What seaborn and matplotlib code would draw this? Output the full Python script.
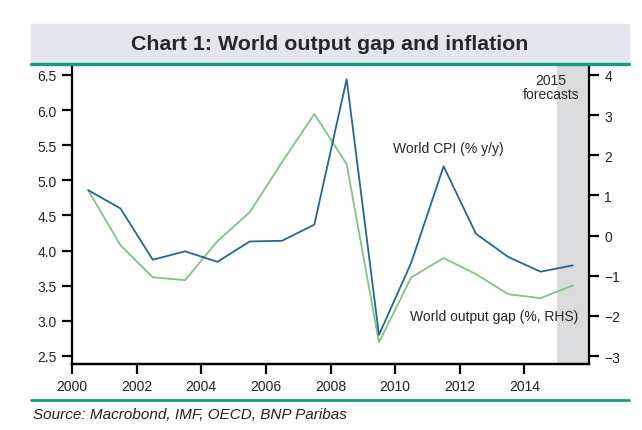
import pandas as pd
import seaborn as sns
import matplotlib.pyplot as plt
from matplotlib.patches import Rectangle
from matplotlib.lines import Line2D

# Annual values, plotted at mid-year
years = [2000.5, 2001.5, 2002.5, 2003.5, 2004.5, 2005.5, 2006.5, 2007.5,
         2008.5, 2009.5, 2010.5, 2011.5, 2012.5, 2013.5, 2014.5, 2015.5]
world_cpi = [4.86, 4.60, 3.87, 3.99, 3.84, 4.13, 4.14, 4.37,
             6.44, 2.80, 3.83, 5.20, 4.24, 3.91, 3.70, 3.79]
output_gap = [1.13, -0.24, -1.04, -1.11, -0.14, 0.58, 1.83, 3.03,
              1.78, -2.66, -1.04, -0.56, -0.96, -1.46, -1.56, -1.24]
left_ticks = [2.5, 3.0, 3.5, 4.0, 4.5, 5.0, 5.5, 6.0, 6.5]
right_ticks = [-3, -2, -1, 0, 1, 2, 3, 4]
year_ticks = [2000, 2002, 2004, 2006, 2008, 2010, 2012, 2014]

df = pd.DataFrame({'year': years, 'cpi': world_cpi, 'gap': output_gap})

sns.set_style("ticks")
plt.rcParams['font.family'] = ['Liberation Sans', 'DejaVu Sans']

BLUE = '#24698c'
GREEN = '#84c283'
TEAL = '#1a9a7e'

fig = plt.figure(figsize=(6.42, 4.31), dpi=100)
ax = fig.add_axes([72/642, 1-365/431, (589-72)/642, (365-66)/431])
ax2 = ax.twinx()
# right-axis series sits underneath, forecast shading under both lines
ax2.set_zorder(ax.get_zorder() - 1)
ax.patch.set_visible(False)
ax2.axvspan(2015, 2016, color='#d9dbdc', lw=0, zorder=0)

sns.lineplot(data=df, x='year', y='cpi', ax=ax, color=BLUE, lw=1.3)
sns.lineplot(data=df, x='year', y='gap', ax=ax2, color=GREEN, lw=1.3)

ax.set_xlim(2000, 2016)
ax.set_ylim(2.386, 6.642)
ax2.set_ylim(-3.199, 4.249)
ax.set_xticks(year_ticks)
ax.set_yticks(left_ticks)
ax.set_yticklabels([f'{v:.1f}' for v in left_ticks])
ax2.set_yticks(right_ticks)
ax2.set_yticklabels(['\u2212' + str(-v) if v < 0 else str(v) for v in right_ticks])
for a in (ax, ax2):
    a.set_xlabel('')
    a.set_ylabel('')
    a.spines['top'].set_visible(False)
    for s in ('left', 'right', 'bottom'):
        a.spines[s].set_linewidth(1.6)
        a.spines[s].set_color('black')
    a.tick_params(axis='both', direction='out', length=7, width=1.6,
                  labelsize=10, colors='black', labelcolor='#222222', pad=4)
ax.spines['right'].set_visible(False)
ax2.spines['left'].set_visible(False)

# annotations
ax.text(2011.64, 5.46, 'World CPI (% y/y)', ha='center', va='center', fontsize=10)
ax.text(2013.07, 3.07, 'World output gap (%, RHS)', ha='center', va='center', fontsize=10)
ax.text(2014.83, 6.33, '2015\nforecasts', ha='center', va='center', fontsize=10,
        linespacing=1.0)

# title band and rules
fig.patches.append(Rectangle((31/642, 1-63/431), (629-31)/642, 38/431,
                             transform=fig.transFigure, color='#e4e6ec', zorder=0))
fig.lines.append(Line2D([31/642, 629/642], [1-64.5/431]*2, transform=fig.transFigure,
                        color=TEAL, lw=2.4))
fig.lines.append(Line2D([31/642, 629/642], [1-401/431]*2, transform=fig.transFigure,
                        color=TEAL, lw=2.0))
fig.text(330/642, 1-45/431, 'Chart 1: World output gap and inflation',
         ha='center', va='center', fontsize=15.4, fontweight='bold')
fig.text(33/642, 1-415/431, 'Source: Macrobond, IMF, OECD, BNP Paribas',
         ha='left', va='center', fontsize=11, style='italic', color='#222222')

plt.savefig('out.png', dpi=100)
